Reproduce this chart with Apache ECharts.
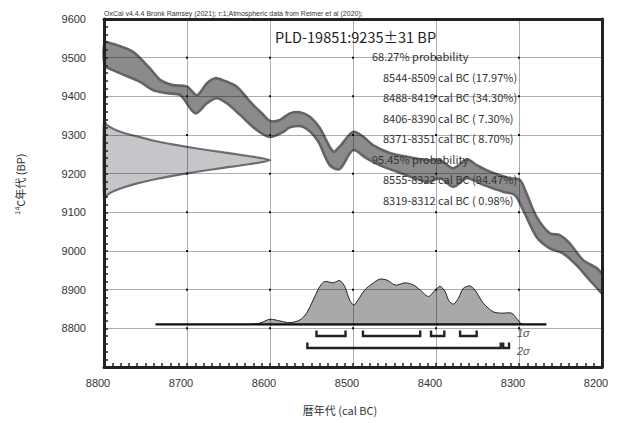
<!DOCTYPE html>
<html>
<head>
<meta charset="utf-8">
<script src="https://cdn.jsdelivr.net/npm/echarts@6/dist/echarts.min.js"></script>
<style>
html,body{margin:0;padding:0;background:#fff;}
#chart{width:619px;height:423px;}
</style>
</head>
<body>
<div id="chart"></div>
<script>
// Axis extents (cal BC runs right-to-left, radiocarbon age bottom-to-top)
const calRange = [8200, 8800];
const c14Range = [8700, 9600];

// IntCal20 calibration band: upper and lower edges
const curveUpperCal = [8800, 8785, 8765, 8745, 8732, 8717, 8700, 8688, 8676, 8666, 8657, 8640, 8624, 8608, 8600, 8588, 8576, 8564, 8552, 8540, 8524, 8516, 8500, 8488, 8476, 8455, 8435, 8411, 8395, 8379, 8363, 8351, 8335, 8311, 8299, 8291, 8279, 8263, 8251, 8239, 8223, 8206, 8200];
const curveUpperC14 = [9542, 9533, 9515, 9473, 9442, 9429, 9425, 9403, 9434, 9447, 9442, 9425, 9386, 9352, 9336, 9339, 9356, 9359, 9347, 9318, 9257, 9270, 9308, 9296, 9274, 9253, 9244, 9235, 9235, 9214, 9237, 9222, 9205, 9188, 9184, 9149, 9089, 9046, 9041, 9020, 8977, 8955, 8940];
const curveLowerCal = [8800, 8781, 8757, 8741, 8724, 8708, 8690, 8676, 8664, 8652, 8636, 8616, 8600, 8584, 8576, 8560, 8543, 8528, 8516, 8500, 8484, 8468, 8447, 8411, 8395, 8379, 8363, 8343, 8319, 8305, 8295, 8279, 8263, 8247, 8231, 8215, 8200];
const curveLowerC14 = [9478, 9460, 9438, 9416, 9408, 9403, 9356, 9382, 9395, 9382, 9352, 9313, 9295, 9308, 9320, 9321, 9287, 9222, 9212, 9261, 9240, 9222, 9205, 9179, 9188, 9166, 9188, 9171, 9153, 9145, 9106, 9037, 9007, 8994, 8964, 8925, 8890];

// Measured date 9235±31 BP: relative probability along the radiocarbon axis
const measC14 = [9335, 9325, 9315, 9305, 9295, 9285, 9275, 9265, 9255, 9245, 9235, 9225, 9215, 9205, 9195, 9185, 9175, 9165, 9155, 9145, 9135];
const measProb = [0.00, 0.02, 0.06, 0.12, 0.21, 0.30, 0.42, 0.56, 0.72, 0.88, 1.00, 0.88, 0.72, 0.56, 0.42, 0.30, 0.20, 0.12, 0.06, 0.02, 0.00];

// Calibrated distribution: relative probability along cal BC
const postCal = [8624, 8612, 8600, 8588, 8576, 8564, 8556, 8548, 8540, 8534, 8524, 8516, 8510, 8504, 8499, 8494, 8486, 8476, 8468, 8459, 8449, 8437, 8427, 8419, 8409, 8401, 8395, 8389, 8385, 8379, 8373, 8367, 8359, 8353, 8343, 8331, 8321, 8309, 8303, 8297, 8294];
const postProb = [0.00, 0.03, 0.115, 0.077, 0.04, 0.10, 0.25, 0.54, 0.84, 0.95, 0.92, 0.97, 0.84, 0.54, 0.43, 0.54, 0.76, 0.91, 1.00, 0.98, 0.87, 0.92, 0.87, 0.76, 0.62, 0.76, 0.84, 0.73, 0.54, 0.45, 0.58, 0.80, 0.85, 0.76, 0.47, 0.28, 0.25, 0.25, 0.14, 0.01, 0.00];
const postSpan = [8738, 8267];   // extent of the calibrated baseline
const postBase = 8810;           // radiocarbon level of the baseline

// Highest posterior density ranges
const sigma1Ranges = [[8544, 8509], [8488, 8419], [8406, 8390], [8371, 8351]];
const sigma2Ranges = [[8555, 8322], [8319, 8312]];
const sigma1Level = 8780;
const sigma2Level = 8749;

// Result text
const sampleTitle = 'PLD-19851:9235±31 BP';
const resultLines = [
  {t: '68.27% probability', indent: 0},
  {t: '8544-8509 cal BC (17.97%)', indent: 1},
  {t: '8488-8419 cal BC (34.30%)', indent: 1},
  {t: '8406-8390 cal BC ( 7.30%)', indent: 1},
  {t: '8371-8351 cal BC ( 8.70%)', indent: 1},
  {t: '95.45% probability', indent: 0},
  {t: '8555-8322 cal BC (94.47%)', indent: 1},
  {t: '8319-8312 cal BC ( 0.98%)', indent: 1}
];
const creditLine = 'OxCal v4.4.4 Bronk Ramsey (2021); r:1;Atmospheric data from Reimer et al (2020);';

// Drawing scales for the two probability profiles (in axis units)
const MEAS_SCALE = 200;  // cal years at peak
const POST_SCALE = 117;  // radiocarbon years at peak

const LATIN = '"Liberation Sans", Arial, sans-serif';
const JP = '"Noto Sans CJK JP", "Noto Sans", sans-serif';

const chart = echarts.init(document.getElementById('chart'), null, {renderer: 'svg'});

function bandItem(params, api) {
  const up = curveUpperCal.map((c, i) => api.coord([c, curveUpperC14[i]]));
  const lo = curveLowerCal.map((c, i) => api.coord([c, curveLowerC14[i]]));
  return {
    type: 'group',
    children: [
      {type: 'polygon', shape: {points: up.concat(lo.slice().reverse()), smooth: 0.3},
       style: {fill: '#8b8b8d', stroke: null}},
      {type: 'polyline', shape: {points: up, smooth: 0.3},
       style: {stroke: '#646464', lineWidth: 2.6, fill: null}},
      {type: 'polyline', shape: {points: lo, smooth: 0.3},
       style: {stroke: '#646464', lineWidth: 2.6, fill: null}}
    ]
  };
}

function measItem(params, api) {
  const pts = measC14.map((c, i) => api.coord([calRange[1] - MEAS_SCALE * measProb[i], c]));
  return {
    type: 'polygon',
    shape: {points: pts, smooth: 0.2},
    style: {fill: '#c6c6ca', stroke: '#6e6e6e', lineWidth: 2.2}
  };
}

function postItem(params, api) {
  const pts = postCal.map((c, i) => api.coord([c, postBase + POST_SCALE * postProb[i]]));
  const a = api.coord([postSpan[0], postBase]);
  const b = api.coord([postSpan[1], postBase]);
  return {
    type: 'group',
    children: [
      {type: 'polygon', shape: {points: pts, smooth: 0.3},
       style: {fill: '#a9a9ab', stroke: '#222', lineWidth: 1}},
      {type: 'line', shape: {x1: a[0], y1: a[1], x2: b[0], y2: b[1]},
       style: {stroke: '#111', lineWidth: 2.2}}
    ]
  };
}

function bracketItem(params, api) {
  const s = api.value(0), e = api.value(1), lvl = api.value(2);
  const p1 = api.coord([s, lvl]);
  const p2 = api.coord([e, lvl]);
  return {
    type: 'polyline',
    shape: {points: [[p1[0], p1[1] - 5.5], [p1[0], p1[1]], [p2[0], p2[1]], [p2[0], p2[1] - 5.5]]},
    style: {stroke: '#222', lineWidth: 2.4, fill: null}
  };
}

function gridDotItem(params, api) {
  const p = api.coord([api.value(0), api.value(1)]);
  return {type: 'rect', shape: {x: p[0] - 1, y: p[1] - 1, width: 2, height: 2}, style: {fill: '#111'}};
}

const bracketData = sigma1Ranges.map(r => [r[0], r[1], sigma1Level])
  .concat(sigma2Ranges.map(r => [r[0], r[1], sigma2Level]));

const dotData = [];
for (let x = calRange[0] + 100; x < calRange[1]; x += 100) {
  for (let y = c14Range[0] + 100; y < c14Range[1]; y += 100) dotData.push([x, y]);
}

const graphics = [
  {type: 'text', x: 104, y: 13, z: 100,
   style: {text: creditLine, fontSize: 7, fontFamily: LATIN, fill: '#333', align: 'left', verticalAlign: 'middle'}},
  {type: 'text', x: 275, y: 36, z: 100,
   style: {text: sampleTitle, fontSize: 14.5, fontFamily: JP, fill: '#222', align: 'left', verticalAlign: 'middle'}},
  {type: 'text', x: 20, y: 184, rotation: Math.PI / 2, z: 100,
   style: {text: '{s|14}{n|C年代 (BP)}', align: 'center', verticalAlign: 'middle',
     rich: {s: {fontSize: 7, fontFamily: LATIN, fill: '#333', verticalAlign: 'top', padding: [0, 0, 5, 0]},
            n: {fontSize: 11, fontFamily: JP, fill: '#333'}}}},
  {type: 'text', x: 340, y: 410, z: 100,
   style: {text: '暦年代 (cal BC)', fontSize: 11, fontFamily: JP, fill: '#333', align: 'center', verticalAlign: 'middle'}},
  {type: 'text', x: 517, y: 333, z: 100,
   style: {text: '1σ', fontSize: 11, fontStyle: 'italic', fontFamily: LATIN, fill: '#555', align: 'left', verticalAlign: 'middle'}},
  {type: 'text', x: 517, y: 351, z: 100,
   style: {text: '2σ', fontSize: 11, fontStyle: 'italic', fontFamily: LATIN, fill: '#555', align: 'left', verticalAlign: 'middle'}}
];
resultLines.forEach((l, i) => {
  graphics.push({type: 'text', x: l.indent ? 383 : 372, y: 56 + 20.5 * i, z: 100,
    style: {text: l.t, fontSize: 11, fontFamily: JP, fill: '#333', align: 'left', verticalAlign: 'middle'}});
});

const axisLineStyle = {show: true, lineStyle: {color: '#222', width: 3}};
const splitLineStyle = {show: true, lineStyle: {color: 'rgba(0,0,0,0.32)', width: 1}};

chart.setOption({
  animation: false,
  backgroundColor: '#fff',
  grid: {left: 104, right: 17, top: 19, bottom: 56, containLabel: false},
  xAxis: [
    {type: 'value', min: calRange[0], max: calRange[1], interval: 100, inverse: true, z: 5,
     axisLine: axisLineStyle,
     axisTick: {show: true, inside: true, length: 4, lineStyle: {color: '#222', width: 1.5}},
     minorTick: {show: true, splitNumber: 10, length: 4, lineStyle: {color: '#222', width: 1.5}},
     axisLabel: {fontSize: 11, fontFamily: LATIN, color: '#333', margin: 10, padding: [0, 12, 0, 0],
       formatter: v => String(v)},
     splitLine: splitLineStyle},
    {type: 'value', position: 'top', min: calRange[0], max: calRange[1], inverse: true, z: 5,
     axisLine: axisLineStyle, axisTick: {show: false}, axisLabel: {show: false}, splitLine: {show: false}}
  ],
  yAxis: [
    {type: 'value', min: c14Range[0], max: c14Range[1], interval: 100, z: 5,
     axisLine: axisLineStyle,
     axisTick: {show: true, inside: true, length: 4, lineStyle: {color: '#222', width: 1.5}},
     minorTick: {show: true, splitNumber: 5, length: 4, lineStyle: {color: '#222', width: 1.5}},
     axisLabel: {fontSize: 11, fontFamily: LATIN, color: '#333', margin: 18,
       formatter: v => (v === c14Range[0] ? '' : String(v))},
     splitLine: splitLineStyle},
    {type: 'value', position: 'right', min: c14Range[0], max: c14Range[1], z: 5,
     axisLine: axisLineStyle, axisTick: {show: false}, axisLabel: {show: false}, splitLine: {show: false}}
  ],
  graphic: graphics,
  series: [
    {type: 'custom', name: 'IntCal20', renderItem: bandItem, data: [[8500, 9200]], z: 2, silent: true},
    {type: 'custom', name: 'measurement', renderItem: measItem, data: [[8700, 9235]], z: 2, silent: true},
    {type: 'custom', name: 'calibrated', renderItem: postItem, data: [[8450, 8850]], z: 2, silent: true},
    {type: 'custom', name: 'ranges', renderItem: bracketItem, data: bracketData, z: 3, silent: true},
    {type: 'custom', name: 'gridDots', renderItem: gridDotItem, data: dotData, z: 6, silent: true}
  ]
});
</script>
</body>
</html>
